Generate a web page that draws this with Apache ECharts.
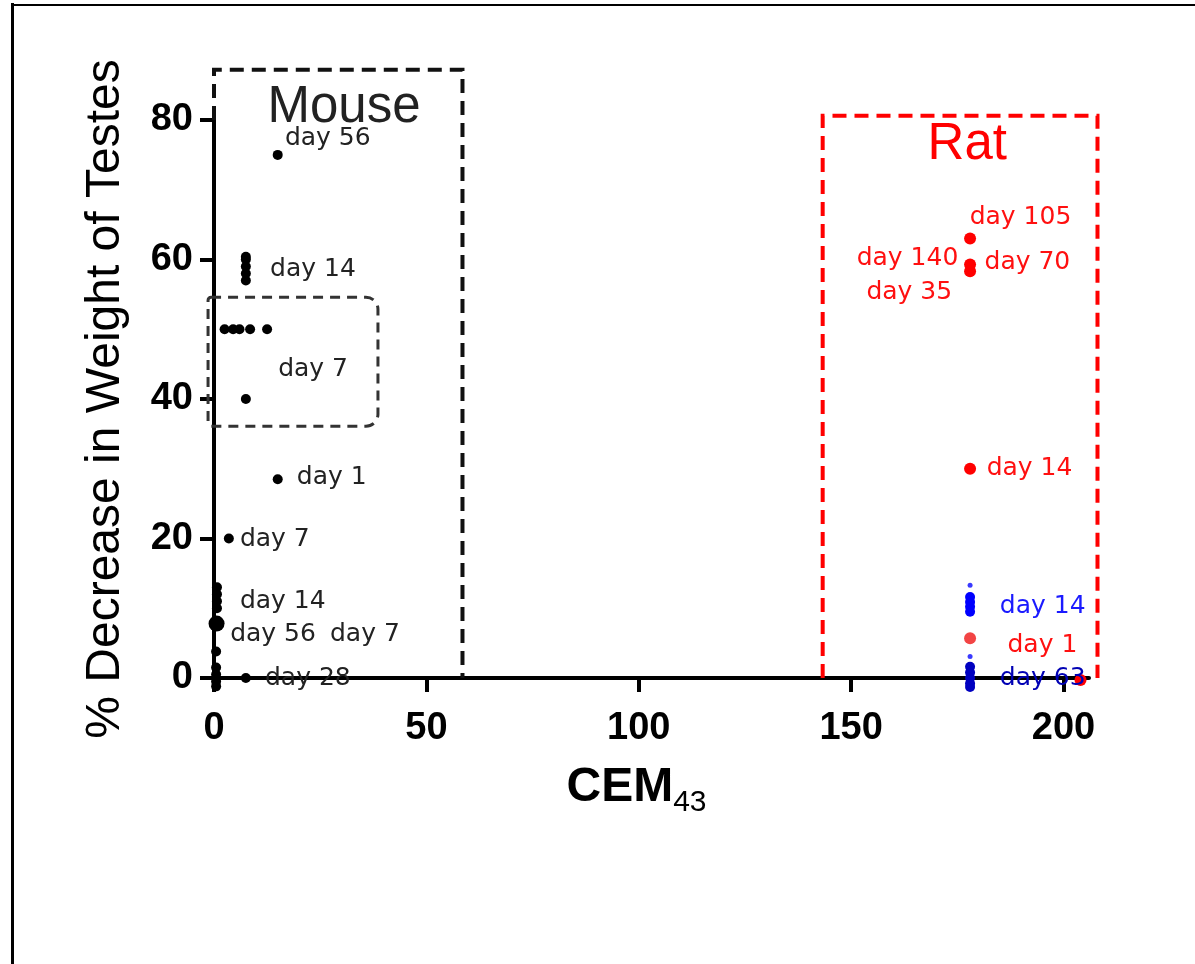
<!DOCTYPE html>
<html>
<head>
<meta charset="utf-8">
<script src="https://cdn.jsdelivr.net/npm/echarts@6/dist/echarts.min.js"></script>
<style>
  html, body { margin: 0; padding: 0; background: #fff; }
  #chart { width: 1195px; height: 964px; }
</style>
</head>
<body>
<div id="chart"></div>
<script>
// tick values
const xTicks = [0, 50, 100, 150, 200];
const yTicks = [0, 20, 40, 60, 80];

// mouse points (CEM43, % decrease)
const mouseDots = [
  [15, 75],
  [7.5, 57], [7.5, 58], [7.5, 59], [7.5, 60], [7.5, 60.4],
  [2.5, 50], [4.5, 50], [6, 50], [8.5, 50], [12.5, 50],
  [7.5, 40], [15, 28.5], [3.5, 20],
  [0.7, 13], [0.7, 12], [0.7, 11], [0.7, 10],
  [0.5, 3.8], [7.5, 0],
  [0.5, 1.5], [0.5, 0.5], [0.5, -0.5], [0.5, -1.2]
];
const mouseBigDots = [[0.6, 7.8]];

// rat points
const ratDots = [[178, 63], [178, 59.3], [178, 58.3], [178, 30], [204, -0.3]];
const ratDay1 = [[178, 5.7]];
const blueDay14 = [[178, 11.6], [178, 10.9], [178, 10.2], [178, 9.5]];
const blueDay63 = [[178, 1.6], [178, 0.8], [178, 0], [178, -0.8], [178, -1.3]];
const blueCaps = [[178, 13.3], [178, 3.1]];

// annotation text: [x, y, text]
const mouseLabels = [
  [16.7, 77.4, 'day 56'], [13.2, 58.5, 'day 14'], [15.1, 44.2, 'day 7'],
  [19.5, 28.7, 'day 1'], [6.1, 19.8, 'day 7'], [6.1, 10.9, 'day 14'],
  [3.8, 6.3, 'day 56'], [27.3, 6.3, 'day 7'], [12, 0, 'day 28']
];
const ratLabels = [
  [177.9, 66, 'day 105'], [151.3, 60.2, 'day 140'], [181.4, 59.6, 'day 70'],
  [153.6, 55.2, 'day 35'], [181.9, 30.1, 'day 14'], [186.8, 4.6, 'day 1']
];
const blueLabels = [[185, 10.3, 'day 14', '#1a1aff'], [185, 0, 'day 63', '#0000b4']];
const groupTitles = [[12.6, 81.7, 'Mouse', '#222'], [168, 76.4, 'Rat', '#ff0000']];

// annotation boxes (data coords)
const mouseBox = [[0, 80], [0, 87.2], [58.5, 87.2], [58.5, 0]];
const ratBox = [[143.3, 0], [143.3, 80.6], [208, 80.6], [208, 0]];
const day7Box = [[-1.4, 54.6, 38.6, 36.1]];

const chart = echarts.init(document.getElementById('chart'));

function dots(data, color, size) {
  return {
    type: 'scatter', data: data, symbolSize: size, clip: false, z: 5,
    itemStyle: { color: color, opacity: 1 }
  };
}

function labels(data, color, size, font) {
  return {
    type: 'scatter', clip: false, symbolSize: 0, z: 6, silent: true,
    itemStyle: { color: 'rgba(0,0,0,0)', opacity: 1 },
    data: data.map(d => ({
      value: [d[0], d[1]], name: d[2],
      label: { color: d[3] || color }
    })),
    label: {
      show: true, position: 'right', distance: 0, formatter: '{b}',
      fontFamily: font || 'DejaVu Sans', fontSize: size, color: color
    }
  };
}

// open dashed outline drawn through the axis scales
function boxLine(points, color) {
  return {
    type: 'custom', data: [0], clip: false, silent: true, z: 3,
    renderItem: function (params, api) {
      return {
        type: 'polyline',
        shape: { points: points.map(p => api.coord(p)) },
        style: { fill: 'none', stroke: color, lineWidth: 4, lineDash: [14, 8] }
      };
    }
  };
}

const labelFont = {
  fontFamily: 'Liberation Sans', fontWeight: 'bold', fontSize: 38, color: '#000'
};

chart.setOption({
  animation: false,
  grid: { left: 214, right: 106, top: 120, bottom: 286 },
  xAxis: {
    type: 'value', min: 0, max: 206,
    name: '{m|CEM}{s|43}', nameLocation: 'middle', nameGap: 80,
    nameTextStyle: {
      padding: [0, 30, 0, 0],
      rich: {
        m: { fontFamily: 'Liberation Sans', fontWeight: 'bold', fontSize: 48, color: '#000' },
        s: { fontFamily: 'Liberation Sans', fontSize: 30, color: '#000', padding: [30, 0, 0, 0] }
      }
    },
    splitLine: { show: false },
    axisLine: { lineStyle: { color: '#000', width: 4 } },
    axisTick: { length: 14, lineStyle: { width: 4, color: '#000' }, customValues: xTicks },
    axisLabel: Object.assign({ margin: 32, customValues: xTicks }, labelFont)
  },
  yAxis: {
    type: 'value', min: 0, max: 80, interval: 20,
    name: '% Decrease in Weight of Testes', nameLocation: 'middle', nameGap: 84,
    nameTextStyle: { fontFamily: 'Liberation Sans', fontSize: 48, color: '#000' },
    splitLine: { show: false },
    axisLine: { show: true, lineStyle: { color: '#000', width: 4 } },
    axisTick: { show: true, length: 14, lineStyle: { width: 4, color: '#000' }, customValues: yTicks },
    axisLabel: Object.assign({ margin: 21, customValues: yTicks }, labelFont)
  },
  graphic: [
    { type: 'line', shape: { x1: 12.5, y1: 3, x2: 12.5, y2: 964 }, style: { stroke: '#000', lineWidth: 3 } },
    { type: 'line', shape: { x1: 12, y1: 5, x2: 1195, y2: 5 }, style: { stroke: '#000', lineWidth: 2 } }
  ],
  series: [
    boxLine(mouseBox, '#111'),
    boxLine(ratBox, '#ff0000'),
    {
      type: 'custom', data: day7Box, clip: false, silent: true, z: 3,
      encode: { x: [0, 2], y: [1, 3] },
      renderItem: function (params, api) {
        const p0 = api.coord([api.value(0), api.value(1)]);
        const p1 = api.coord([api.value(2), api.value(3)]);
        return {
          type: 'rect',
          shape: { x: p0[0], y: p0[1], width: p1[0] - p0[0], height: p1[1] - p0[1], r: [3, 12, 12, 3] },
          style: { fill: 'none', stroke: '#333', lineWidth: 3, lineDash: [10, 7] }
        };
      }
    },
    dots(mouseDots, '#000', 10),
    dots(mouseBigDots, '#000', 16),
    dots(ratDots, '#ff0000', 12),
    dots(ratDay1, '#f24444', 12),
    dots(blueDay14, '#0000ff', 10),
    dots(blueDay63, '#0000c0', 10),
    dots(blueCaps, '#3a3aff', 5),
    labels(mouseLabels, '#222', 25),
    labels(ratLabels, '#ff1010', 25),
    labels(blueLabels, '#1a1aff', 25),
    labels(groupTitles, '#222', 51, 'Liberation Sans')
  ]
});
</script>
</body>
</html>
